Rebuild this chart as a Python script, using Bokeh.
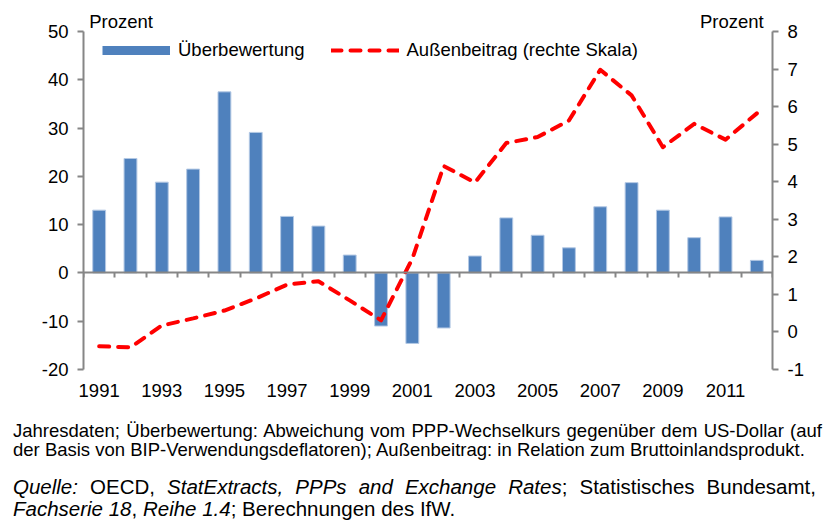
from bokeh.plotting import figure
from bokeh.layouts import column
from bokeh.models import (Range1d, LinearAxis, FixedTicker, Legend, LegendItem, Div)
from bokeh.embed import file_html
from bokeh.resources import INLINE

years = list(range(1991, 2013))
ueberbewertung = [13.0, 23.7, 18.8, 21.5, 37.5, 29.1, 11.7, 9.7, 3.7, -11.0, -14.6,
                  -11.4, 3.5, 11.4, 7.8, 5.2, 13.7, 18.7, 13.0, 7.3, 11.6, 2.6]
aussenbeitrag = [-0.38, -0.41, 0.17, 0.36, 0.57, 0.89, 1.26, 1.35, 0.84, 0.31, 1.95,
                 4.42, 3.98, 5.03, 5.19, 5.63, 6.98, 6.30, 4.92, 5.54, 5.12, 5.82]
left_ticks = [-20, -10, 0, 10, 20, 30, 40, 50]
right_ticks = [-1, 0, 1, 2, 3, 4, 5, 6, 7, 8]
year_labels = years[::2]
unit_label = "Prozent"
unit_label_pos = [1991.7, 2011.2]   # where the two unit labels sit above the frame
series_names = ["Überbewertung", "Außenbeitrag (rechte Skala)"]
note_text = ("Jahresdaten; Überbewertung: Abweichung vom PPP-Wechselkurs gegenüber dem "
             "US-Dollar (auf der Basis von BIP-Verwendungsdeflatoren); Außenbeitrag: in "
             "Relation zum Bruttoinlandsprodukt.")
source_html = ("<i>Quelle:</i> OECD, <i>StatExtracts, PPPs and Exchange Rates</i>; "
               "Statistisches Bundesamt, <i>Fachserie 18</i>, <i>Reihe 1.4</i>; "
               "Berechnungen des IfW.")

FONT = "Liberation Sans"
GREY = "#868686"
BLUE = "#4F81BD"
RED = "#FF0000"
TS = "18.5px"

W, H1, H2 = 824, 420, 105
p = figure(width=W, height=H1, output_backend="svg", toolbar_location=None,
           x_range=Range1d(years[0] - 0.5, years[-1] + 0.5),
           y_range=Range1d(left_ticks[0], left_ticks[-1]),
           min_border_left=83, min_border_right=52, min_border_top=31,
           min_border_bottom=51)
p.outline_line_color = None
p.xgrid.visible = False
p.ygrid.visible = False
p.extra_y_ranges = {"right": Range1d(right_ticks[0], right_ticks[-1])}

# bars
p.vbar(x=years, top=ueberbewertung, bottom=0, width=0.41,
       fill_color=BLUE, line_color="#B3C8E4", line_width=1)
# line
line = p.line(x=years, y=aussenbeitrag, y_range_name="right", line_color=RED,
              line_width=4, line_dash="10 9", line_cap="round", line_join="round")

# hidden swatch renderer for the bar legend entry (draws a flat blue bar)
swatch = p.line(x=years, y=ueberbewertung, line_color=BLUE, line_width=9, visible=False)

legend = Legend(items=[LegendItem(label=series_names[0], renderers=[swatch]),
                       LegendItem(label=series_names[1], renderers=[line])],
                orientation="horizontal", location=(19, 308),
                glyph_width=68, glyph_height=20, label_standoff=8, spacing=26,
                padding=0, margin=0, border_line_color=None,
                background_fill_alpha=0, inactive_fill_alpha=0,
                label_text_font=FONT, label_text_font_size=TS,
                label_text_color="#000000")
p.add_layout(legend, "center")


def style_axis(ax, tick_out=6, standoff=9):
    ax.axis_line_color = GREY
    ax.axis_line_width = 2
    ax.major_tick_line_color = GREY
    ax.major_tick_line_width = 2
    ax.major_tick_in = 0
    ax.major_tick_out = tick_out
    ax.minor_tick_line_color = None
    ax.major_label_standoff = standoff
    ax.major_label_text_font = FONT
    ax.major_label_text_font_size = TS
    ax.major_label_text_color = "#000000"


# left axis (plain hyphen for negative numbers, as in the original)
ya = p.yaxis[0]
ya.ticker = FixedTicker(ticks=left_ticks)
ya.major_label_overrides = {t: str(t) for t in left_ticks if t < 0}
style_axis(ya)

# right axis
ra = LinearAxis(y_range_name="right", ticker=FixedTicker(ticks=right_ticks),
                major_label_overrides={t: str(t) for t in right_ticks if t < 0})
style_axis(ra)
p.add_layout(ra, "right")

# bottom axis: year labels only
xa = p.xaxis[0]
xa.ticker = FixedTicker(ticks=year_labels)
style_axis(xa, tick_out=0, standoff=14)
xa.axis_line_color = None
xa.major_tick_line_color = None

# zero axis with category boundary ticks (pointing down)
bounds = [y - 0.5 for y in years] + [years[-1] + 0.5]
za = LinearAxis(ticker=FixedTicker(ticks=bounds), fixed_location=0)
style_axis(za, tick_out=5, standoff=0)
za.major_label_text_font_size = "1px"
za.major_label_text_color = None
p.add_layout(za, "below")

# unit labels "Prozent" above the frame
ua = LinearAxis(ticker=FixedTicker(ticks=unit_label_pos),
                major_label_overrides={v: unit_label for v in unit_label_pos})
style_axis(ua, tick_out=0, standoff=0)
ua.axis_line_color = None
ua.major_tick_line_color = None
p.add_layout(ua, "above")

# footnotes
foot_html = (
    '<div style="position:relative;width:824px;height:105px;'
    'font-family:\'Liberation Sans\',Arial,sans-serif;color:#000;">'
    '<div style="position:absolute;left:13px;top:1px;width:809px;font-size:18.5px;'
    'line-height:19px;text-align:justify;">' + note_text + '</div>'
    '<div style="position:absolute;left:13px;top:56px;width:803px;font-size:20.5px;'
    'line-height:22px;text-align:justify;">' + source_html + '</div>'
    '</div>')
div = Div(text=foot_html, width=W, height=H2, margin=(0, 0, 0, 0))

layout = column(p, div, spacing=0)
open("out.html", "w").write(file_html(layout, INLINE))
